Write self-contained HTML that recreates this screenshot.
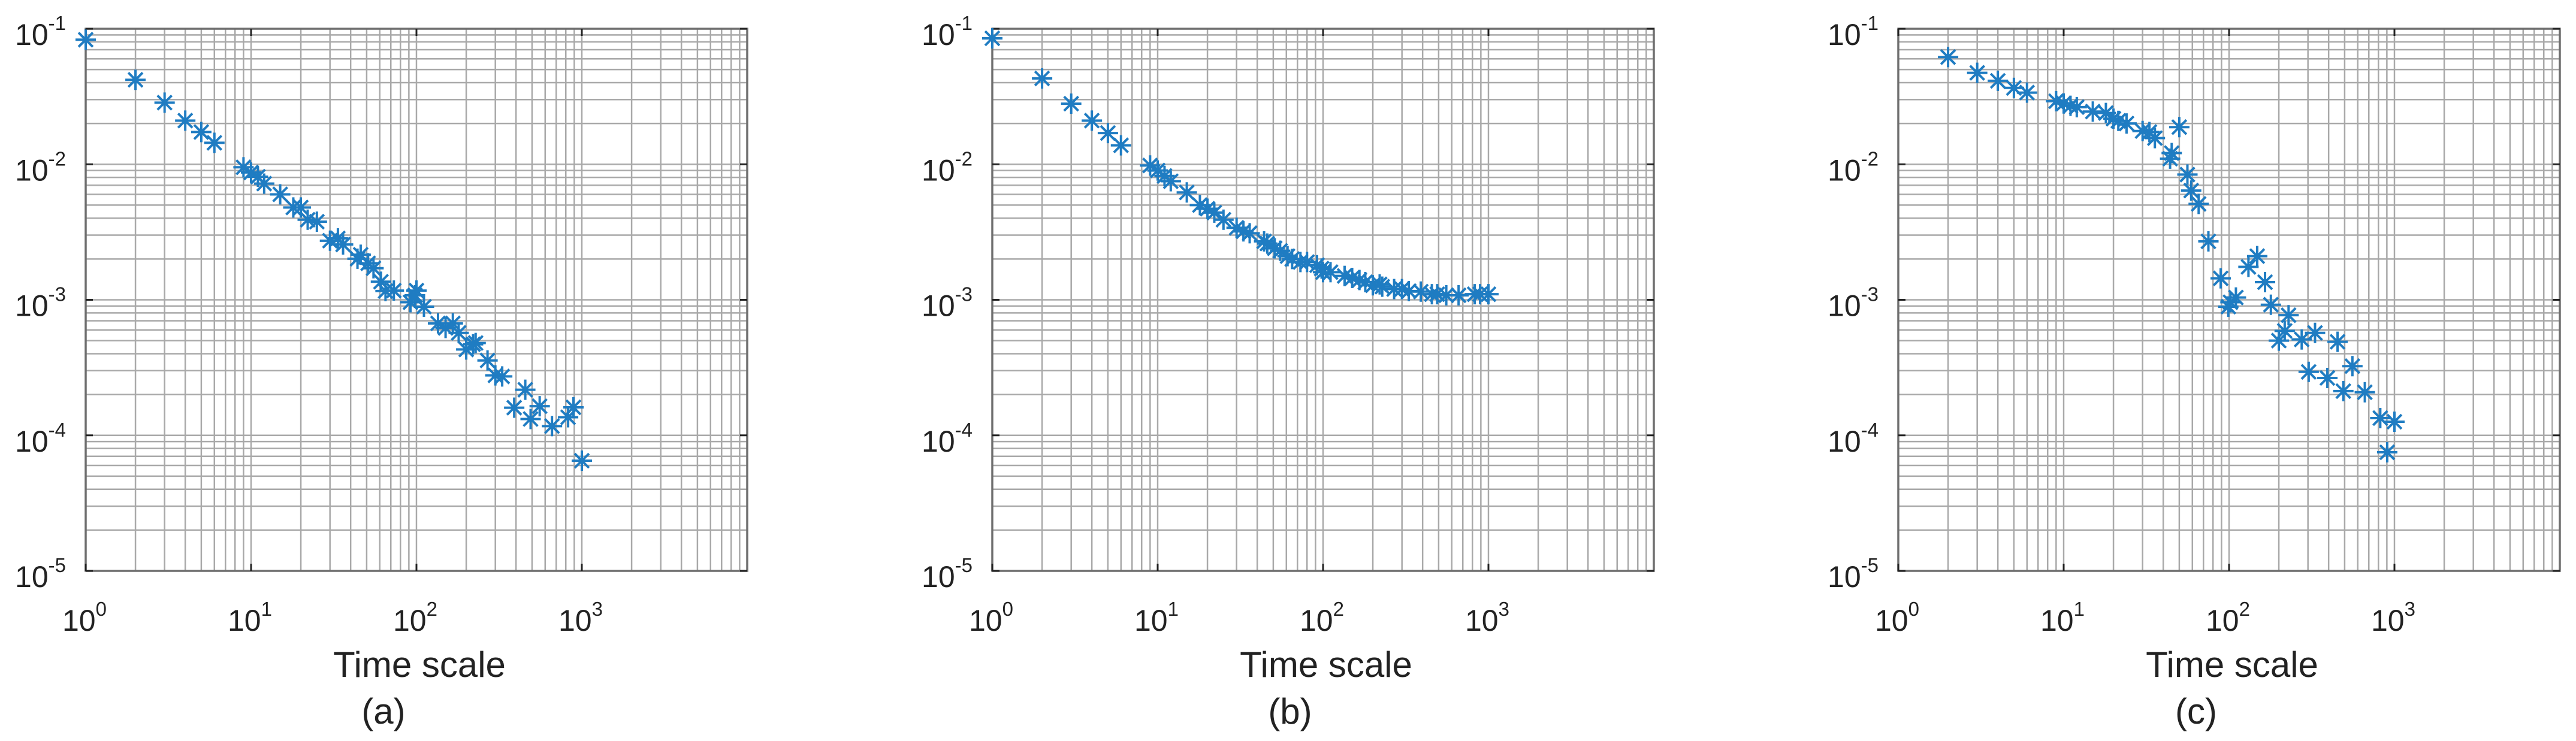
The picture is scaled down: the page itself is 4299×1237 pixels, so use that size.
<!DOCTYPE html>
<html><head><meta charset="utf-8">
<style>
html,body{margin:0;padding:0;background:#fff;}
svg{display:block;}
text{font-family:"Liberation Sans",Arial,sans-serif;fill:#222;}
</style></head>
<body>
<svg id="fig" width="4299" height="1237" viewBox="0 0 4299 1237" xmlns="http://www.w3.org/2000/svg"></svg>
<script>
// ---- data ----
const xTickExps = [0, 1, 2, 3];
const yTickExps = [-1, -2, -3, -4, -5];
const panelLabels = ["(a)", "(b)", "(c)"];

const aX = [1,2,3,4,5,6,9,10,11,12,15,18,20,22,25,30,33.5,36,44,46,51,55,61,65,73,92,98,100,111,135,150,166,180,200,220,228,269,300,330,390,455,490,556,660,826,890,1000];
const aY = [0.083,0.042,0.0285,0.021,0.0173,0.0144,0.0095,0.0087,0.0081,0.0072,0.006,0.0048,0.0048,0.0039,0.00377,0.00273,0.00284,0.00256,0.00201,0.00215,0.00186,0.00171,0.00136,0.00116,0.00117,0.00096,0.00108,0.00117,0.00089,0.00067,0.00062,0.00067,0.00057,0.00043,0.00047,0.00048,0.000357,0.000277,0.000272,0.00016,0.000217,0.000132,0.000164,0.000117,0.000136,0.000161,0.000065];

const bX = [1,2,3,4,5,6,9,10,11,12,15,18,20,22,25,30,33,36,44,46,51,55,61,65,73,80,92,98,100,111,135,150,166,180,200,220,228,269,300,330,390,455,490,556,660,826,890,1000];
const bY = [0.085,0.043,0.028,0.021,0.017,0.0138,0.0098,0.0090,0.0082,0.0075,0.0062,0.0050,0.0047,0.0044,0.0039,0.0034,0.0032,0.0031,0.0027,0.0026,0.0024,0.0023,0.0021,0.0020,0.0019,0.0019,0.0018,0.0017,0.0016,0.0016,0.0015,0.00145,0.0014,0.00135,0.00128,0.0013,0.00125,0.0012,0.0012,0.00116,0.00115,0.0011,0.0011,0.00108,0.00108,0.0011,0.0011,0.0011];

const cX = [2,3,4,5,6,9,10,11,12,15,18,20,21.4,24,30,33,35.6,45,44,50,56,59,65.5,75,89,99,102,110,131,148,165,179,200,217,229,275,303,331,393,453,491,557,662,821,1000,904];
const cY = [0.0618,0.0473,0.0413,0.0366,0.0338,0.0292,0.0281,0.027,0.0264,0.0245,0.0239,0.0217,0.0209,0.02,0.0176,0.0173,0.0156,0.0121,0.011,0.0188,0.0084,0.0064,0.0051,0.0027,0.00144,0.00089,0.00096,0.00104,0.00175,0.0021,0.00135,0.00092,0.0005,0.00059,0.00077,0.00051,0.000294,0.00057,0.000265,0.00049,0.000212,0.000324,0.000208,0.000134,0.000126,0.000075];

const seriesX = [aX, bX, cX];
const seriesY = [aY, bY, cY];

// ---- layout ----
const NS = "http://www.w3.org/2000/svg";
const svg = document.getElementById("fig");
const panelLefts = [143, 1656, 3168];
const TOP = 48, PW = 1104, PH = 905;
const XDEC = PW / 4, YDEC = PH / 4;

function mk(tag, attrs, parent){
  const e = document.createElementNS(NS, tag);
  for (const k in attrs) e.setAttribute(k, attrs[k]);
  parent.appendChild(e);
  return e;
}

panelLefts.forEach((L, p) => {
  const g = mk("g", {}, svg);
  
  
  const xs = v => L + Math.log10(v) * XDEC;
  const ys = v => TOP + (-1 - Math.log10(v)) * YDEC;

  const grid = mk("g", {stroke:"#a9a9a9","stroke-width":2.5}, g);
  
  
  for (let d = 0; d < 4; d++) for (let m = 1; m < 10; m++) {
    const v = Math.pow(10, d) * m;
    if (d === 0 && m === 1) continue;
    const x = xs(v);
    mk("line", {x1:x, y1:TOP, x2:x, y2:TOP+PH}, grid);
  }
  for (let d = -5; d < -1; d++) for (let m = 1; m < 10; m++) {
    const v = Math.pow(10, d) * m;
    if (d === -5 && m === 1) continue;
    const y = ys(v);
    mk("line", {x1:L, y1:y, x2:L+PW, y2:y}, grid);
  }
  const box = mk("rect", {x:L, y:TOP, width:PW, height:PH, fill:"none", stroke:"#6e6e6e", "stroke-width":3.5}, g);
  
  
  const ticks = mk("g", {stroke:"#222","stroke-width":3}, g);
  
  
  xTickExps.forEach(e => {
    const x = xs(Math.pow(10, e));
    mk("line", {x1:x, y1:TOP+PH, x2:x, y2:TOP+PH-12}, ticks);
    mk("line", {x1:x, y1:TOP, x2:x, y2:TOP+12}, ticks);
    const t = mk("text", {x:x-2, y:1053, "font-size":50, "text-anchor":"middle"}, g);
    
    
    t.textContent = "10";
    const s = mk("tspan", {dy:-25, "font-size":33}, t);
    s.textContent = String(e);
  });
  yTickExps.forEach(e => {
    const y = ys(Math.pow(10, e));
    mk("line", {x1:L, y1:y, x2:L+12, y2:y}, ticks);
    mk("line", {x1:L+PW, y1:y, x2:L+PW-12, y2:y}, ticks);
    const t = mk("text", {x:L-33, y:y+27, "font-size":50, "text-anchor":"end"}, g);
    
    
    t.textContent = "10";
    const s = mk("tspan", {dy:-25, "font-size":33}, t);
    s.textContent = String(e);
  });
  const mg = mk("g", {stroke:"#1f7cc2","stroke-width":4}, g);
  
  
  const X = seriesX[p], Y = seriesY[p];
  for (let i = 0; i < X.length; i++) {
    const cx = xs(X[i]), cy = ys(Y[i]), r = 17, q = r * 0.7;
    const m = mk("g", {}, mg);
    
    
    mk("line", {x1:cx-r, y1:cy, x2:cx+r, y2:cy}, m);
    mk("line", {x1:cx, y1:cy-r, x2:cx, y2:cy+r}, m);
    mk("line", {x1:cx-q, y1:cy-q, x2:cx+q, y2:cy+q}, m);
    mk("line", {x1:cx-q, y1:cy+q, x2:cx+q, y2:cy-q}, m);
  }
  const xl = mk("text", {x:L+PW/2+5, y:1130, "font-size":60, "text-anchor":"middle"}, g);
  
  
  xl.textContent = "Time scale";
  const pl = mk("text", {x:L+497, y:1208, "font-size":60, "text-anchor":"middle"}, g);
  
  
  pl.textContent = panelLabels[p];
});
</script>
</body></html>
